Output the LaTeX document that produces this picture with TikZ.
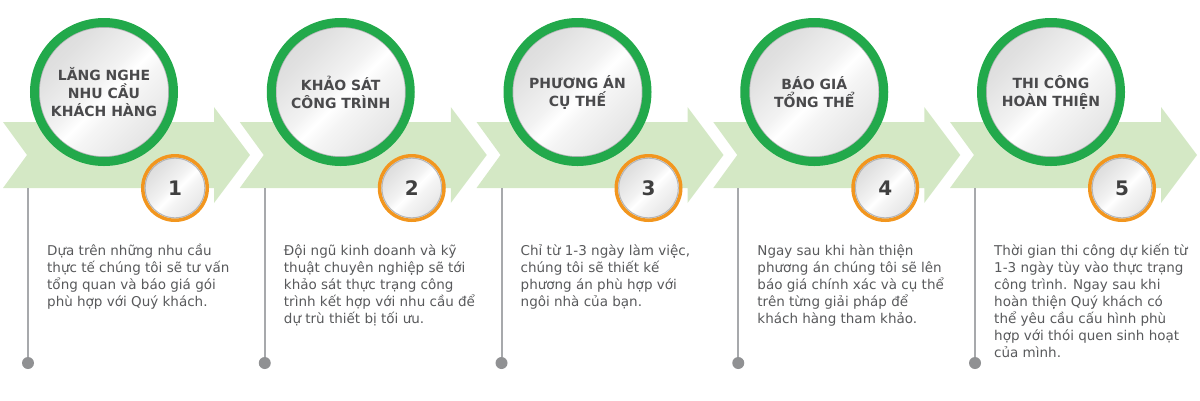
\documentclass[tikz,border=0pt]{standalone}
\usepackage{xcolor}
\usepackage{fontspec}
\setmainfont{DejaVu Sans}
\usetikzlibrary{positioning}
\definecolor{stepgreen}{HTML}{22A94B}
\definecolor{chevrongreen}{HTML}{D4E8C5}
\definecolor{steporange}{HTML}{F2961E}
\definecolor{linegrey}{HTML}{A7A9AC}
\definecolor{dotgrey}{HTML}{909193}
\definecolor{textgrey}{HTML}{58595B}
\definecolor{titlegrey}{HTML}{4A4A4C}
\definecolor{rimgrey}{HTML}{B4B5B7}
\pgfdeclarehorizontalshading{metal}{100bp}{%
    color(0bp)=(gray!40); color(30bp)=(gray!24); color(46bp)=(gray!10);
    color(52bp)=(white); color(58bp)=(gray!8); color(74bp)=(gray!20);
    color(100bp)=(gray!32)}
\tikzset{%
    every chevron/.style={
        fill=chevrongreen,
        draw=none
    },
    step title/.style={
        circle,
        shading=metal,
        shading angle=-45,
        draw=rimgrey,
        line width=1.5pt,
        minimum size=130pt,
        inner sep=0pt,
        align=center,
        text=titlegrey,
        font=\fontsize{14}{18}\selectfont\bfseries
    },
    step number/.style={
        circle,
        shading=metal,
        shading angle=-45,
        draw=steporange,
        line width=3.5pt,
        minimum size=64.5pt,
        inner sep=0pt,
        text=black!75,
        font=\fontsize{20}{24}\selectfont\bfseries
    },
    step text/.style={
        anchor=north west,
        align=left,
        inner sep=0pt,
        text=textgrey,
        font=\fontsize{13.5}{17}\selectfont,
        execute at begin node=\rule{0pt}{13pt}
    },
    step dot/.style={
        circle,
        fill=dotgrey,
        minimum size=12pt,
        inner sep=0pt
    },
}

\begin{document}
\begin{tikzpicture}[x=1pt, y=-1pt]
    \useasboundingbox (0,0) rectangle (1200,400);

        \foreach \i [evaluate=\i as \d using (\i-1)*236.75] in {1,...,5}
            \fill [every chevron] (3+\d,122) -- (214+\d,122) -- (214+\d,107) -- (250+\d,155)
                -- (214+\d,203) -- (214+\d,188) -- (3+\d,188) -- (27+\d,155) -- cycle;

        \foreach \i [evaluate=\i as \d using (\i-1)*236.75] in {1,...,5} {
            \coordinate (base-\i) at (28+\d,188);
            \node [step dot] (dot-\i) at (28+\d,363) {};
            \draw [linegrey, line width=2pt] (base-\i) -- (dot-\i);
        }

        \foreach \t [count=\i, evaluate=\i as \d using (\i-1)*236.75] in {%
                {LĂNG NGHE\\NHU CẦU\\KHÁCH HÀNG},
                {KHẢO SÁT\\CÔNG TRÌNH},
                {PHƯƠNG ÁN\\CỤ THẾ},
                {BÁO GIÁ\\TỔNG THỂ},
                {THI CÔNG\\HOÀN THIỆN}} {
            \node [step title] (title-\i) at (104+\d,92) {\t};
            \draw [stepgreen, line width=9pt] (title-\i.center) circle (69.5pt);
            \node [step number] (number-\i) at (175+\d,188) {\i};
            \draw [rimgrey, line width=1pt] (number-\i.center) circle (29.8pt);
        }

        \foreach \b [count=\i, evaluate=\i as \d using (\i-1)*236.75] in {%
                {Dựa trên những nhu cầu\\thực tế chúng tôi sẽ tư vấn\\tổng quan và báo giá gói\\phù hợp với Quý khách.},
                {Đội ngũ kinh doanh và kỹ\\thuật chuyên nghiệp sẽ tới\\khảo sát thực trạng công\\trình kết hợp với nhu cầu để\\dự trù thiết bị tối ưu.},
                {Chỉ từ 1-3 ngày làm việc,\\chúng tôi sẽ thiết kế\\phương án phù hợp với\\ngôi nhà của bạn.},
                {Ngay sau khi hàn thiện\\phương án chúng tôi sẽ lên\\báo giá chính xác và cụ thể\\trên từng giải pháp để\\khách hàng tham khảo.},
                {Thời gian thi công dự kiến từ\\1-3 ngày tùy vào thực trạng\\công trình. Ngay sau khi\\hoàn thiện Quý khách có\\thể yêu cầu cấu hình phù\\hợp với thói quen sinh hoạt\\của mình.}}
            \node [step text] (text-\i) at (47+\d,244) {\b};

    \end{tikzpicture}
\end{document}
